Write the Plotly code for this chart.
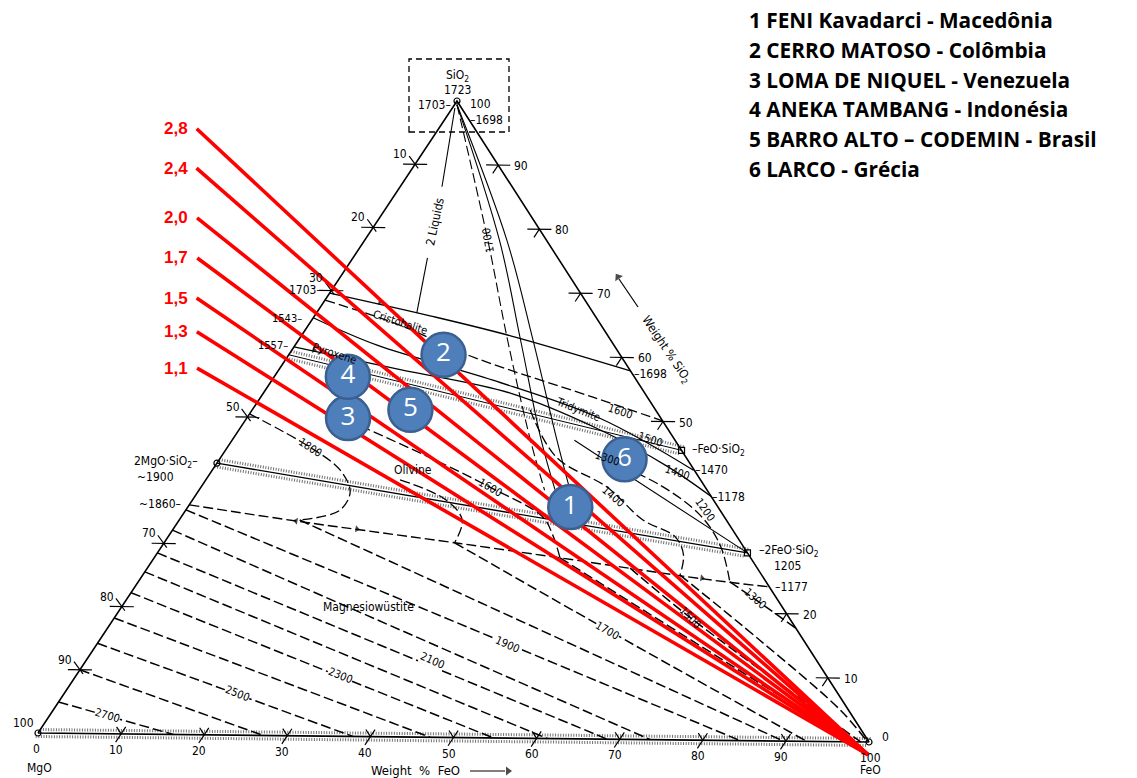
import math
import plotly.graph_objects as go

W, H = 1137, 778

# ---------------- values ----------------
# red lines of constant SiO2/MgO ratio, drawn from a common point near the FeO corner
ratio_labels = ["2,8", "2,4", "2,0", "1,7", "1,5", "1,3", "1,1"]
ratio_end_feo = [-28.9, -25.8, -21.8, -18.6, -15.5, -12.8, -9.9]
ratio_end_sio2 = [95.2, 89.0, 81.2, 74.9, 68.6, 63.3, 57.6]
ratio_origin_feo = 100.9
ratio_origin_sio2 = -2.0

# slags of the plants (wt % FeO, wt % SiO2)
plant_ids = ["1", "2", "3", "4", "5", "6"]
plant_names = ["FENI Kavadarci - Macedônia", "CERRO MATOSO - Colômbia",
               "LOMA DE NIQUEL - Venezuela", "ANEKA TAMBANG - Indonésia",
               "BARRO ALTO – CODEMIN - Brasil", "LARCO - Grécia"]
plant_feo = [45.7, 18.5, 12.1, 8.8, 18.9, 48.4]
plant_sio2 = [36.4, 60.1, 50.0, 56.5, 51.4, 44.0]

# axis ticks (wt %)
feo_ticks = [0, 10, 20, 30, 40, 50, 60, 70, 80, 90, 100]
mgo_ticks = [10, 20, 30, 50, 70, 80, 90, 100]
sio2_ticks = [90, 80, 70, 60, 50, 20, 10, 0]

# compounds: SiO2, MgO, FeO, Mg2SiO4, FeSiO3, Fe2SiO4
compound_feo = [0, 0, 100, 0, 54.5, 70.5]
compound_sio2 = [100, 0, 0, 42.7, 45.5, 29.5]

# phase boundaries (wt % FeO, wt % SiO2)
b1703_feo = [0, 13.8, 25.0, 42.1]
b1703_sio2 = [69.6, 66.2, 63.2, 57.9]
b1600_feo = [0, 10.9, 21.7, 39.7, 49.9]
b1600_sio2 = [68.5, 64.7, 60.0, 53.7, 50.1]
b1543_feo = [0, 9.8, 26.4, 42.2, 57.5]
b1543_sio2 = [65.7, 61.5, 56.2, 50.4, 42.4]
b1557_feo = [0, 14.5, 29.5, 43.1, 54.0, 61.7]
b1557_sio2 = [61.1, 57.7, 54.2, 48.6, 43.0, 38.3]
pyroxene_feo = [0, 54.5]
pyroxene_sio2 = [59.85, 45.5]
olivine_feo = [0, 70.5]
olivine_sio2 = [42.7, 29.5]
b1860_feo = [0, 14.3, 22.8, 34.7, 48.5, 67.5, 75.8]
b1860_sio2 = [36.1, 33.7, 32.4, 30.6, 28.4, 25.3, 24.2]
liq2_feo = [0.3, 5.0, None, 8.9, 12.0]
liq2_sio2 = [98.9, 86.5, None, 75.3, 66.6]
apex1_feo = [0.3, 16.1, 26.5, 36.9, 42.5]
apex1_sio2 = [99.4, 78.2, 62.6, 46.9, 39.1]
apex1700_feo = [0.3, 14.7, 25.0, 35.6, 41.3]
apex1700_sio2 = [99.4, 78.2, 62.5, 46.9, 39.0]
apex3_feo = [0.3, 17.0, 28.0, 38.8, 44.3]
apex3_sio2 = [99.4, 78.2, 62.6, 46.9, 39.1]
g_feo = [40.9, 70.5]
g_sio2 = [46.9, 29.5]

# isotherms in the olivine field
ol_iso_feo = [[0, 9.8, 15.3, 18.2, 18.4, 14.4],
              [23.2, 30.3, 33.8, 34.7],
              [10.3, 25.1, 34.5, 43.2, 45.8, 48.5],
              [33.2, 40.1, 48.5, 55.4, 60.6, 63.0, 64.2],
              [46.9, 54.7, 61.8, 66.6, 70.7]]
ol_iso_sio2 = [[50.5, 45.4, 41.8, 38.4, 35.5, 33.9],
               [40.4, 37.3, 34.2, 30.6],
               [50.5, 43.9, 39.4, 34.8, 32.0, 28.4],
               [51.6, 44.2, 39.6, 34.5, 31.9, 29.1, 25.9],
               [43.6, 40.0, 35.4, 30.7, 24.9]]

# isotherms in the magnesiowustite field, 2700 ... 1300 C
mw_iso_feo = [[0, 16.3], [0, 27.1], [0, 37.9], [0, 47.2], [0, 54.8], [0, 61.3],
              [0, 68.5], [0, 73.7], [0, 84.5], [14.4, 89.7], [34.7, 59.8, 92.5],
              [48.5, 98.1], [57.7, 68.7, 99.0], [64.2, 78.9, 94.0, 99.5],
              [70.7, 74.5, 82.3]]
mw_iso_sio2 = [[4.9, 0], [10.0, 0], [14.2, 0], [18.2, 0], [22.2, 0], [25.5, 0],
               [28.5, 0], [32.1, 0], [35.3, 0], [33.9, 0], [30.6, 17.2, 0],
               [28.4, 0], [26.9, 19.3, 0], [25.9, 15.8, 5.0, 0.3],
               [24.9, 22.6, 17.7]]

# ---------------- drawing ----------------
SKEW, TILT = 0.5042, 0.01424   # shape of the printed triangle
X_RANGE = [-4.573, 132.25]
Y_RANGE = [-7.12, 115.98]


def proj(feo, sio2):
    xs, ys = [], []
    for f, s in zip(feo, sio2):
        if f is None:
            xs.append(None); ys.append(None)
        else:
            xs.append(f + SKEW * s)
            ys.append(s - TILT * f)
    return xs, ys


def pix(px, py):
    """page pixel -> axis coordinates (for decorations only)"""
    x = X_RANGE[0] + (X_RANGE[1] - X_RANGE[0]) * px / W
    y = Y_RANGE[1] - (Y_RANGE[1] - Y_RANGE[0]) * py / H
    return x, y


fig = go.Figure()


def path(feo, sio2, color="black", width=1.3, dash="solid", shape="linear"):
    x, y = proj(feo, sio2)
    fig.add_trace(go.Scatter(x=x, y=y, mode="lines", hoverinfo="skip",
                             line=dict(color=color, width=width, dash=dash, shape=shape)))


def offset(vals, d):
    return [v + d for v in vals]


HATCH = dict(color="#6f6f6f", width=3, dash="1px,1.6px")
DASH = "10px,4px"

# hatched solid-solution bands
for d in (0.55, -0.55):
    path([0, 100], offset([0, 0], d), **HATCH)
    path(olivine_feo, offset(olivine_sio2, d), **HATCH)
    path(pyroxene_feo, offset(pyroxene_sio2, d), **HATCH)

# triangle
path([0, 100, 0, 0], [0, 0, 100, 0], width=1.6)

# ticks
tick_f, tick_s = [], []
for f in feo_ticks[1:-1]:
    tick_f += [f - 1.1, f, f, None, f, f, None]
    tick_s += [1.1, 0, 1.1, None, 0, -1.3, None]
for m in mgo_ticks[:-1]:
    s = 100 - m
    tick_f += [-1.45, 1.45, None, -1.35, 0.7, None]
    tick_s += [s, s, None, s + 1.27, s - 0.65, None]
for s in sio2_ticks[:-1]:
    f = 100 - s
    tick_f += [f - 1.45, f + 1.45, None, f, f, None]
    tick_s += [s, s, None, s, s - 1.3, None]
path(tick_f, tick_s, width=1.2)

# phase boundaries
path(b1703_feo, b1703_sio2, width=1.4, shape="spline")
path(b1600_feo, b1600_sio2, dash=DASH, shape="spline")
path(b1543_feo, b1543_sio2, shape="spline")
path(b1557_feo, b1557_sio2, shape="spline")
path(pyroxene_feo, pyroxene_sio2, width=1.0)
path(olivine_feo, olivine_sio2, width=1.4)
path(b1860_feo, b1860_sio2, width=1.4, dash=DASH, shape="spline")
path(liq2_feo, liq2_sio2, width=1.1)
path(apex1_feo, apex1_sio2, width=1.1, shape="spline")
path(apex1700_feo, apex1700_sio2, width=1.1, dash=DASH, shape="spline")
path(apex3_feo, apex3_sio2, width=1.1, shape="spline")
path(g_feo, g_sio2, width=1.1)
for fl, sl in zip(ol_iso_feo, ol_iso_sio2):
    path(fl, sl, width=1.3, dash=DASH, shape="spline")
for fl, sl in zip(mw_iso_feo, mw_iso_sio2):
    path(fl, sl, width=1.5, dash=DASH, shape="spline")

# compound points
cx, cy = proj(compound_feo, compound_sio2)
fig.add_trace(go.Scatter(x=cx, y=cy, mode="markers", hoverinfo="skip",
                         marker=dict(symbol=["circle-open"] * 4 + ["square-open"] * 2,
                                     size=6, color="black", line=dict(width=1.2))))

# arrows drawn on the diagram (head pixel position, direction)
arrow_heads = [(380, 302, 10, 2), (314, 350, 10, 2), (296, 521, -11, -2),
               (357, 529, 11, 1.5), (702, 578, 11, 1.5), (618, 277, -20, -30),
               (508, 771, 1, 0)]
ah_x, ah_y, ah_ang, ah_size = [], [], [], []
for hx, hy, dx, dy in arrow_heads:
    x, y = pix(hx, hy)
    ah_x.append(x); ah_y.append(y)
    ah_ang.append(math.degrees(math.atan2(dx, -dy)))
    ah_size.append(8 if abs(dx) > 15 or dx == 1 else 6)
# shafts of the two axis-title arrows
s1 = [pix(638, 307), pix(619, 279)]
s2 = [pix(470, 771), pix(505, 771)]
fig.add_trace(go.Scatter(x=[s1[0][0], s1[1][0], None, s2[0][0], s2[1][0]],
                         y=[s1[0][1], s1[1][1], None, s2[0][1], s2[1][1]],
                         mode="lines", hoverinfo="skip", line=dict(color="black", width=1.2)))
fig.add_trace(go.Scatter(x=ah_x, y=ah_y, mode="markers", hoverinfo="skip",
                         marker=dict(symbol="triangle-up", angle=ah_ang, size=ah_size,
                                     color="black", line=dict(width=0))))

# red ratio lines
for fe, si in zip(ratio_end_feo, ratio_end_sio2):
    path([ratio_origin_feo, fe], [ratio_origin_sio2, si], color="#ff0000", width=3.6)

# plant slags
px_, py_ = proj(plant_feo, plant_sio2)
fig.add_trace(go.Scatter(x=px_, y=py_, mode="markers+text", text=plant_ids,
                         textposition="middle center", hoverinfo="skip",
                         textfont=dict(color="white", size=26, family="Open Sans, Liberation Sans"),
                         marker=dict(size=44, color="#4f7fbb", line=dict(color="#3b6090", width=2.5))))

ann = []
DIAG_FONT = "Liberation Sans Narrow, DejaVu Sans Condensed, Liberation Sans, Arial"


def note(text, px, py, angle=0, size=12, bg=None):
    x, y = pix(px, py)
    d = dict(x=x, y=y, xref="x", yref="y", text=text,
             showarrow=False, textangle=angle, xanchor="center", yanchor="middle",
             font=dict(size=size, color="black", family=DIAG_FONT))
    if bg:
        d.update(bgcolor=bg, borderpad=0)
    ann.append(d)


# ratio labels
ex, ey = proj(ratio_end_feo, ratio_end_sio2)
for lab, x, y in zip(ratio_labels, ex, ey):
    ann.append(dict(x=x, y=y, xref="x", yref="y", text="<b>" + lab + "</b>", showarrow=False,
                    xanchor="right", yanchor="middle", xshift=-7,
                    font=dict(size=17, color="#ff0000", family="Liberation Sans, Arial")))

# axis tick labels
for f in feo_ticks:
    x, y = proj([f], [0])
    xs = -2 if f == 0 else (1 if f == 100 else -5)
    ann.append(dict(x=x[0], y=y[0], xref="x", yref="y", text=str(f), showarrow=False,
                    xshift=xs, yshift=-16, font=dict(size=12, color="black", family=DIAG_FONT)))
for m in mgo_ticks:
    x, y = proj([0], [100 - m])
    sh = dict(xshift=-15, yshift=13) if m == 30 else dict(xshift=-15, yshift=10)
    ann.append(dict(x=x[0], y=y[0], xref="x", yref="y", text=str(m), showarrow=False,
                    font=dict(size=12, color="black", family=DIAG_FONT), **sh))
for s in sio2_ticks:
    x, y = proj([100 - s], [s])
    if s == 0:
        sh = dict(xshift=11, yshift=5)
    else:
        sh = dict(xshift=14, yshift=-1)
    ann.append(dict(x=x[0], y=y[0], xref="x", yref="y", text=str(s), showarrow=False,
                    xanchor="left", font=dict(size=12, color="black", family=DIAG_FONT), **sh))

# diagram texts
diag_labels = [
    ("SiO<sub>2</sub>", 457, 76, 0, 12), ("1723", 457, 90, 0, 12),
    ("1703–", 434, 105, 0, 12), ("100", 480, 104, 0, 12), ("–1698", 486, 120, 0, 12),
    ("1703–", 305, 290, 0, 12), ("1543–", 287, 318, 0, 11), ("1557–", 273, 345, 0, 11),
    ("Cristobalite", 400, 322, 18, 11), ("Pyroxene", 334, 353, 18, 11),
    ("2 Liquids", 435, 222, -78, 12), ("1700", 488, 241, -100, 11),
    ("Olivine", 413, 470, 0, 12), ("Magnesiowüstite", 368, 607, 0, 12),
    ("Tridymite", 578, 409, 22, 11),
    ("1800", 310, 447, 33, 11), ("1600", 490, 487, 30, 11), ("1400", 613, 496, 40, 11),
    ("1600", 620, 411, 18, 11), ("1500", 650, 439, 18, 11), ("1400", 677, 472, 18, 11),
    ("1200", 705, 509, 55, 11), ("1300", 607, 458, 18, 11),
    ("1500", 690, 617, 45, 11), ("1300", 755, 598, 42, 11),
    ("–1698", 650, 374, 0, 12), ("–FeO·SiO<sub>2</sub>", 718, 450, 0, 12),
    ("–1470", 711, 470, 0, 12), ("–1178", 728, 497, 0, 12),
    ("–2FeO·SiO<sub>2</sub>", 789, 551, 0, 12), ("1205", 787, 566, 0, 12),
    ("–1177", 791, 587, 0, 12),
    ("Weight % SiO<sub>2</sub>", 666, 350, 56, 12),
    ("2MgO·SiO<sub>2</sub>–", 166, 462, 0, 12), ("~1900", 155, 477, 0, 12),
    ("~1860–", 160, 504, 0, 12),
    ("MgO", 39, 768, 0, 12), ("FeO", 870, 770, 0, 12), ("Weight  %  FeO", 415, 770, 0, 13),
]
for t, x, y, a, s in diag_labels:
    note(t, x, y, a, s)

# isotherm labels that interrupt their dashed lines
mw_labels = [("2700", 107, 715, 17), ("2500", 237, 693, 22), ("2300", 340, 675, 22),
             ("2100", 432, 660, 24), ("1900", 507, 644, 24), ("1700", 607, 630, 30)]
for t, x, y, a in mw_labels:
    note(t, x, y, a, 11, bg="white")

# legend of plants
for i, (pid, name) in enumerate(zip(plant_ids, plant_names)):
    ann.append(dict(x=747 / W, y=1 - (20 + 29.8 * i) / H, xref="paper", yref="paper",
                    text="<b>" + pid + " " + name + "</b>", showarrow=False,
                    xanchor="left", yanchor="middle",
                    font=dict(size=20.8, color="black", family="Open Sans, Liberation Sans")))

bx0, by0 = pix(409, 132)
bx1, by1 = pix(509, 59)
fig.update_layout(
    width=W, height=H, margin=dict(l=0, r=0, t=0, b=0),
    paper_bgcolor="white", plot_bgcolor="white", showlegend=False,
    xaxis=dict(range=X_RANGE, visible=False, fixedrange=True),
    yaxis=dict(range=Y_RANGE, visible=False, fixedrange=True),
    annotations=ann,
    shapes=[dict(type="rect", xref="x", yref="y", x0=bx0, x1=bx1, y0=by0, y1=by1,
                 line=dict(color="black", width=1.3, dash="6px,4px"))],
)

fig.write_html("out.html", config={"displayModeBar": False},
               post_script="document.body.style.margin='0px';")
